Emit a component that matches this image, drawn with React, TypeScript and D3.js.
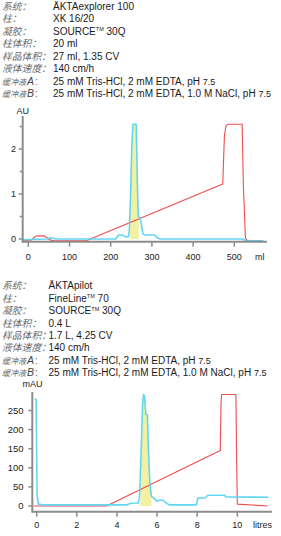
import React from "react";
import * as d3 from "d3";

// ---------- text data ----------
const labels = ["系统", "柱", "凝胶", "柱体积", "样品体积", "液体速度", "缓冲液", "缓冲液"];
const labelSuffix = ["", "", "", "", "", "", "A", "B"];
const topValues = [
  "ÄKTAexplorer 100",
  "XK 16/20",
  "SOURCE™ 30Q",
  "20 ml",
  "27 ml, 1.35 CV",
  "140 cm/h",
  "25 mM Tris-HCl, 2 mM EDTA, pH 7.5",
  "25 mM Tris-HCl, 2 mM EDTA, 1.0 M NaCl, pH 7.5",
];
const bottomValues = [
  "ÄKTApilot",
  "FineLine™ 70",
  "SOURCE™ 30Q",
  "0.4 L",
  "1.7 L, 4.25 CV",
  "140 cm/h",
  "25 mM Tris-HCl, 2 mM EDTA, pH 7.5",
  "25 mM Tris-HCl, 2 mM EDTA, 1.0 M NaCl, pH 7.5",
];

// ---------- chart 1 data (ml, AU) ----------
const topYTicks = [0, 1, 2];
const topYMinor = [0.5, 1.5, 2.5];
const topXTicks = [0, 100, 200, 300, 400, 500];
const topUvVol = [-13, 0, 45, 52, 58, 66, 140, 212, 216, 220, 228, 233, 236, 243, 245, 248, 251, 254, 256, 262, 265, 267, 271, 274, 278, 282, 305, 309, 314, 320, 520, 528, 570];
const topUv = [-0.02, -0.01, 0.0, 0.02, 0.02, 0.0, 0.0, 0.0, 0.06, 0.09, 0.09, 0.06, 0.05, 0.05, 0.15, 0.9, 2.0, 2.55, 2.55, 2.55, 1.1, 0.5, 0.47, 0.35, 0.12, 0.09, 0.09, 0.07, 0.02, 0.0, 0.0, -0.04, -0.04];
const topCondVol = [-13, 8, 16, 22, 38, 44, 52, 62, 140, 145, 472, 476, 480, 485, 519, 522, 527, 532, 570];
const topCond = [-0.03, -0.02, 0.05, 0.07, 0.07, 0.04, -0.02, -0.04, -0.04, -0.02, 1.22, 2.3, 2.52, 2.55, 2.55, 1.2, 0.02, -0.04, -0.04];
const topFraction = [247, 268];

// ---------- chart 2 data (litres, mAU) ----------
const botYTicks = [0, 50, 100, 150, 200, 250];
const botXTicks = [0, 2, 4, 6, 8, 10];
const botUvVol = [-0.1, -0.03, 0.02, 0.08, 0.3, 4.5, 4.7, 5.05, 5.12, 5.2, 5.28, 5.33, 5.38, 5.44, 5.52, 5.57, 5.64, 5.72, 5.85, 6.0, 6.1, 6.3, 6.45, 6.62, 7.96, 8.04, 8.4, 8.53, 9.37, 9.42, 11.55];
const botUv = [280, 278, 30, 5, 3, 3, 7, 8, 20, 130, 270, 292, 285, 240, 238, 150, 60, 25, 20, 12, 15, 15, 8, 3, 3, 21, 21, 28, 28, 24, 23];
const botCondVol = [-0.15, 3.48, 9.15, 9.19, 9.22, 9.93, 9.96, 10.0, 11.5];
const botCond = [0, 0, 145, 270, 292, 292, 150, 5, 0];
const botFraction = [5.17, 5.72];

const BLUE = "#5ad4f0";
const RED = "#f04c4c";
const YELLOW = "#f4f0a2";
const AXIS = "#8c8c8c";
const LABEL_FONT = "'Liberation Sans', 'Noto Sans CJK SC'";

function richText(s: string, size: number) {
  const parts: React.ReactNode[] = [];
  let rest = s;
  let tail: string | null = null;
  const m = rest.match(/^(.*pH )(\d\.\d)$/);
  if (m) {
    rest = m[1];
    tail = m[2];
  }
  const segs = rest.split("™");
  const up = size * 0.35;
  segs.forEach((seg, i) => {
    parts.push(
      <tspan key={"s" + i} dy={i > 0 ? up : undefined}>
        {seg}
      </tspan>
    );
    if (i < segs.length - 1)
      parts.push(
        <tspan key={"t" + i} fontSize={size * 0.55} dy={-up}>
          TM
        </tspan>
      );
  });
  if (tail) parts.push(<tspan key="tail" fontSize={size * 0.9}>{tail}</tspan>);
  return parts;
}

function InfoBlock({ values, y0, step, valueX }: { values: string[]; y0: number; step: number; valueX: number }) {
  return (
    <g>
      {labels.map((lab, i) => {
        const y = y0 + i * step;
        const suffix = labelSuffix[i];
        return (
          <g key={i}>
            {suffix ? (
              <text x={2} y={y} fontFamily={LABEL_FONT} fontSize={8} fill="#6a6a6a" fontStyle="italic">
                <tspan>{lab}</tspan>
                <tspan x={27} fontSize={10.5} fill="#444">
                  {suffix}
                </tspan>
                <tspan x={35} fontSize={10} fontStyle="normal">
                  {":"}
                </tspan>
              </text>
            ) : (
              <text x={2} y={y} fontFamily={LABEL_FONT} fontSize={9.8} fill="#6a6a6a" fontStyle="italic">
                {lab + "："}
              </text>
            )}
            <text x={valueX} y={y} fontFamily="'Liberation Sans', Arial" fontSize={10} fill="#1a1a1a">
              {richText(values[i], 10)}
            </text>
          </g>
        );
      })}
    </g>
  );
}

function Chart(props: {
  xDomain: [number, number];
  xRange: [number, number];
  yDomain: [number, number];
  yRange: [number, number];
  axisX: number;
  axisY: number;
  axisTop: number;
  axisRight: number;
  axisLeft: number;
  yTicks: number[];
  yMinor: number[];
  xTicks: number[];
  uvX: number[];
  uvY: number[];
  condX: number[];
  condY: number[];
  fraction: number[];
  yLabel: string;
  yLabelX: number;
  yLabelY: number;
  xUnit: string;
  xUnitX: number;
  yTickFont: number;
  xTickFont: number;
  yTickEnd: number;
  xLabelY: number;
}) {
  const p = props;
  const x = d3.scaleLinear().domain(p.xDomain).range(p.xRange);
  const y = d3.scaleLinear().domain(p.yDomain).range(p.yRange);
  const uv = p.uvX.map((v, i) => [v, p.uvY[i]] as [number, number]);
  const cond = p.condX.map((v, i) => [v, p.condY[i]] as [number, number]);
  const line = d3
    .line<[number, number]>()
    .x((d) => x(d[0]))
    .y((d) => y(d[1]));
  const interp = (v: number) => {
    for (let i = 0; i < uv.length - 1; i++) {
      if (uv[i][0] <= v && uv[i + 1][0] >= v) {
        const t = (v - uv[i][0]) / (uv[i + 1][0] - uv[i][0]);
        return uv[i][1] + t * (uv[i + 1][1] - uv[i][1]);
      }
    }
    return 0;
  };
  const [f0, f1] = p.fraction;
  const fracPts: [number, number][] = [
    [f0, interp(f0)],
    ...uv.filter((d) => d[0] > f0 && d[0] < f1),
    [f1, interp(f1)],
  ];
  const area = d3
    .area<[number, number]>()
    .x((d) => x(d[0]))
    .y0(y(0))
    .y1((d) => y(d[1]));

  return (
    <g>
      <path d={area(fracPts) || ""} fill={YELLOW} />
      <path d={line(cond) || ""} fill="none" stroke={RED} strokeWidth={1.1} strokeLinejoin="round" />
      <path d={line(uv) || ""} fill="none" stroke={BLUE} strokeWidth={1.6} strokeLinejoin="round" opacity={0.95} />
      <line x1={p.axisX} x2={p.axisX} y1={p.axisTop} y2={p.axisY + 1} stroke={AXIS} strokeWidth={2} />
      <line x1={p.axisLeft} x2={p.axisRight} y1={p.axisY} y2={p.axisY} stroke={AXIS} strokeWidth={2} />
      {p.yTicks.map((t) => (
        <g key={"yt" + t}>
          <line x1={p.axisX - 4} x2={p.axisX} y1={y(t)} y2={y(t)} stroke={AXIS} strokeWidth={1.5} />
          <text x={p.yTickEnd} y={y(t) + p.yTickFont * 0.36} textAnchor="end" fontFamily="'Liberation Sans', Arial" fontSize={p.yTickFont} fill="#222">
            {t}
          </text>
        </g>
      ))}
      {p.yMinor.map((t) => (
        <line key={"ym" + t} x1={p.axisX - 3} x2={p.axisX} y1={y(t)} y2={y(t)} stroke={AXIS} strokeWidth={1.5} />
      ))}
      {p.xTicks.map((t) => (
        <g key={"xt" + t}>
          <line x1={x(t)} x2={x(t)} y1={p.axisY} y2={p.axisY + 5} stroke={AXIS} strokeWidth={1.5} />
          <text x={x(t)} y={p.xLabelY} textAnchor="middle" fontFamily="'Liberation Sans', Arial" fontSize={p.xTickFont} fill="#222">
            {t}
          </text>
        </g>
      ))}
      <text x={p.xUnitX} y={p.xLabelY} fontFamily="'Liberation Sans', Arial" fontSize={p.xTickFont} fill="#222">
        {p.xUnit}
      </text>
      <text x={p.yLabelX} y={p.yLabelY} fontFamily="'Liberation Sans', Arial" fontSize={9} fill="#222">
        {p.yLabel}
      </text>
    </g>
  );
}

export default function App() {
  return (
    <svg width={281} height={536} style={{ position: "absolute", left: 0, top: 0, background: "#fff" }}>
      <InfoBlock values={topValues} y0={9.6} step={12.5} valueX={53} />
      <Chart
        xDomain={[0, 500]}
        xRange={[28.3, 234.3]}
        yDomain={[0, 2.5]}
        yRange={[239, 126.5]}
        axisX={22.7}
        axisY={241.7}
        axisTop={116}
        axisLeft={22}
        axisRight={267}
        yTicks={topYTicks}
        yMinor={topYMinor}
        xTicks={topXTicks}
        uvX={topUvVol}
        uvY={topUv}
        condX={topCondVol}
        condY={topCond}
        fraction={topFraction}
        yLabel="AU"
        yLabelX={16.5}
        yLabelY={114}
        xUnit="ml"
        xUnitX={255}
        yTickFont={9}
        xTickFont={9}
        yTickEnd={16}
        xLabelY={260}
      />
      <InfoBlock values={bottomValues} y0={289.2} step={12.45} valueX={48.5} />
      <Chart
        xDomain={[0, 10]}
        xRange={[36.7, 237.3]}
        yDomain={[0, 250]}
        yRange={[506, 410.5]}
        axisX={32.3}
        axisY={511.7}
        axisTop={392}
        axisLeft={32}
        axisRight={272}
        yTicks={botYTicks}
        yMinor={[]}
        xTicks={botXTicks}
        uvX={botUvVol}
        uvY={botUv}
        condX={botCondVol}
        condY={botCond}
        fraction={botFraction}
        yLabel="mAU"
        yLabelX={22.5}
        yLabelY={386.5}
        xUnit="litres"
        xUnitX={253}
        yTickFont={9.5}
        xTickFont={9}
        yTickEnd={23.5}
        xLabelY={528.3}
      />
    </svg>
  );
}
